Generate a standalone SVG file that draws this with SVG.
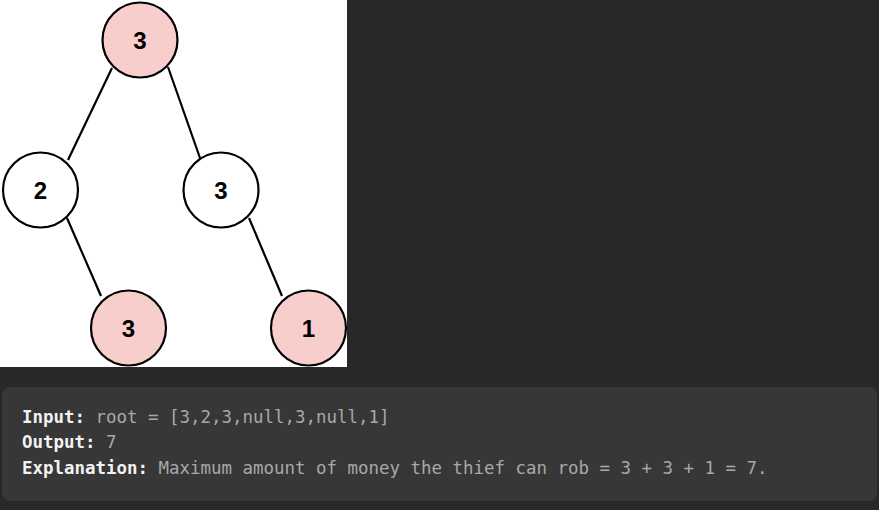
<svg xmlns="http://www.w3.org/2000/svg" width="879" height="510" viewBox="0 0 879 510">
<style>
.node circle{stroke:#000;stroke-width:2.2}
.hl circle{fill:#f8cecc}
.pl circle{fill:#fff}
.node text{font-family:"Liberation Sans",Arial,sans-serif;font-weight:bold;font-size:24px;fill:#000;text-anchor:middle}
#edges line{stroke:#000;stroke-width:2.2}
.t{font-family:"DejaVu Sans Mono","Liberation Mono",monospace;font-size:17.45px}
.b{font-weight:bold;fill:#f2f2f2}
.v{fill:#a8a8a8}
</style>
<rect width="879" height="510" fill="#282828"/>
<rect x="0" y="0" width="347" height="367" fill="#fff"/>
<g id="edges">
<line x1="112" y1="68" x2="68" y2="160"/>
<line x1="168" y1="67" x2="200" y2="158"/>
<line x1="67" y1="218" x2="101" y2="296"/>
<line x1="249" y1="218" x2="282" y2="296"/>
</g>
<g id="n1" class="node hl"><circle cx="140" cy="40" r="37.5"/><text x="140" y="49">3</text></g>
<g id="n2" class="node pl"><circle cx="40.5" cy="190" r="37.5"/><text x="40.5" y="199">2</text></g>
<g id="n3" class="node pl"><circle cx="221" cy="190" r="37.5"/><text x="221" y="199">3</text></g>
<g id="n4" class="node hl"><circle cx="128.5" cy="328" r="37.5"/><text x="128.5" y="337">3</text></g>
<g id="n5" class="node hl"><circle cx="308.5" cy="328" r="37.5"/><text x="308.5" y="337">1</text></g>
<rect x="2" y="387" width="875" height="114" rx="8" fill="#373737"/>
<text class="t" x="22" y="423"><tspan class="b">Input:</tspan><tspan class="v"> root = [3,2,3,null,3,null,1]</tspan></text>
<text class="t" x="22" y="448"><tspan class="b">Output:</tspan><tspan class="v"> 7</tspan></text>
<text class="t" x="22" y="474"><tspan class="b">Explanation:</tspan><tspan class="v"> Maximum amount of money the thief can rob = 3 + 3 + 1 = 7.</tspan></text>
</svg>
